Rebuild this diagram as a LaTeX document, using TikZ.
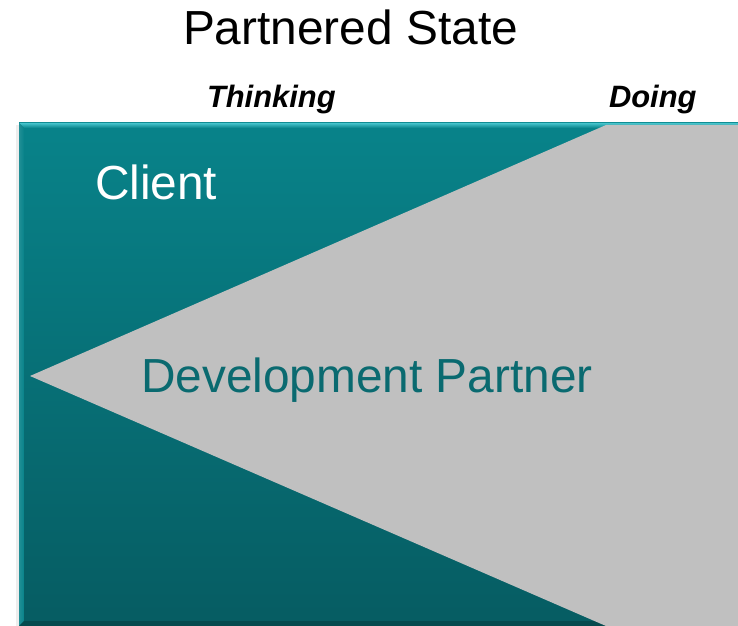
\documentclass[tikz,border=0pt]{standalone}
\usepackage{fontspec}
\setmainfont{Liberation Sans}
\definecolor{tealtop}{RGB}{8,131,138}
\definecolor{tealbot}{RGB}{6,92,98}
\definecolor{tealtxt}{RGB}{10,106,112}
\definecolor{bevel}{RGB}{70,196,204}
\definecolor{greyfill}{RGB}{192,192,192}
\tikzset{
  lbl/.style={inner sep=0pt, outer sep=0pt, anchor=base west},
  bigtxt/.style={lbl, font=\fontsize{48}{50}\selectfont},
  smalltxt/.style={lbl, font=\fontsize{31}{33}\selectfont\bfseries\itshape},
}
\begin{document}
\begin{tikzpicture}[x=1bp,y=-1bp]
\useasboundingbox (0,0) rectangle (738,626);
% faint shadow on left
\fill[black!7] (16,125) rectangle (19,626);
% teal panel
\shade[top color=tealtop, bottom color=tealbot] (19,123) rectangle (738,626);
% top bevel
\shade[top color=bevel, bottom color=tealtop] (19,123) -- (738,123) -- (738,128) -- (24,128) -- cycle;
\shade[left color=tealtop!90!white, right color=tealtop] (19,123) -- (24,128) -- (24,621) -- (19,626) -- cycle;
\fill[black!20!tealbot] (19,626) -- (24,621) -- (738,621) -- (738,626) -- cycle;
% grey wedge
\fill[greyfill] (30,376) -- (606,125) -- (738,125) -- (738,626) -- (606,626) -- cycle;
% texts
\node[lbl, font=\fontsize{48}{50}\selectfont] (title) at (183,45) {Partnered State};
\node[smalltxt] (thinking) at (207,108) {Thinking};
\node[smalltxt] (doing) at (609,108) {Doing};
\node[bigtxt, text=white] (client) at (95,200) {Client};
\node[bigtxt, text=tealtxt] (partner) at (141,392) {Development Partner};
\end{tikzpicture}
\end{document}
